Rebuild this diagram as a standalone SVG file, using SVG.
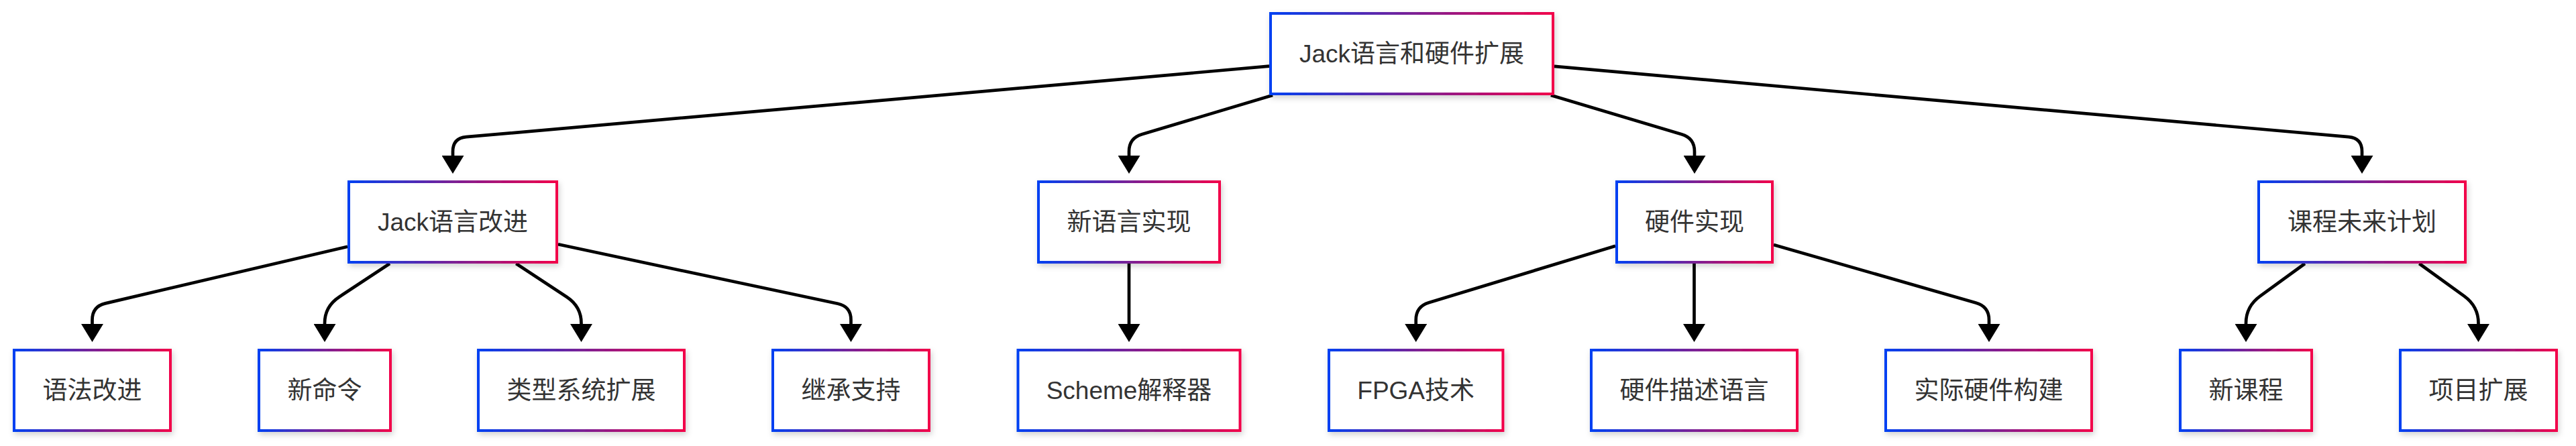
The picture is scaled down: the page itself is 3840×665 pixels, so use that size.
<svg xmlns="http://www.w3.org/2000/svg" width="3840" height="665" viewBox="0 0 3840 665">
<defs>
<linearGradient id="grad" x1="0" y1="0" x2="1" y2="0">
<stop offset="0" stop-color="#0040f2"/>
<stop offset="0.5" stop-color="#7a2196"/>
<stop offset="1" stop-color="#f2004a"/>
</linearGradient>
<filter id="shadow" x="-10%" y="-20%" width="120%" height="150%">
<feDropShadow dx="2" dy="4" stdDeviation="4" flood-color="#000" flood-opacity="0.18"/>
</filter>
<marker id="arrow" markerUnits="userSpaceOnUse" viewBox="0 0 27 33" markerWidth="27" markerHeight="33" refX="1" refY="16.5" orient="auto">
<path d="M0,0 L27,16.5 L0,33 Z" fill="#000"/>
</marker>
<style>
.node rect{fill:#fff;stroke:url(#grad);stroke-width:4;filter:url(#shadow)}
.node text{font-family:"Liberation Sans","Noto Sans CJK SC",sans-serif;font-size:37px;fill:#333;text-anchor:middle}
.edge{fill:none;stroke:#000;stroke-width:4.7;marker-end:url(#arrow)}
</style>
</defs>
<rect width="3840" height="665" fill="#fff"/>
<g id="connectors">
<path class="edge" d="M1892,98.7 L694.9,204.2 Q675,206 675,226 L675,233"/>
<path class="edge" d="M1897.1,142 L1702.2,200.3 Q1683,206 1683,226 L1683,233"/>
<path class="edge" d="M2311.9,142 L2506.8,200.3 Q2526,206 2526,226 L2526,233"/>
<path class="edge" d="M2317,98.9 L3501.1,204.2 Q3521,206 3521,226 L3521,233"/>
<path class="edge" d="M518,367.8 L157,452.4 Q137.5,457 137.5,477 L137.5,484"/>
<path class="edge" d="M581,393 L505.7,442.7 Q484,457 484,482 L484,484"/>
<path class="edge" d="M769.3,393 L844.8,442.7 Q866.5,457 866.5,482 L866.5,484"/>
<path class="edge" d="M832,364.3 L1248.9,452.8 Q1268.5,457 1268.5,477 L1268.5,484"/>
<path class="edge" d="M1683,393 L1683,484"/>
<path class="edge" d="M2408,366.8 L2129.8,451.2 Q2110.7,457 2110.7,477 L2110.7,484"/>
<path class="edge" d="M2525.5,393 L2525.5,484"/>
<path class="edge" d="M2644,364.9 L2945.3,451.5 Q2965,457 2965,477 L2965,484"/>
<path class="edge" d="M3435.9,393 L3369,441.7 Q3348,457 3348,482 L3348,484"/>
<path class="edge" d="M3606.3,393 L3673.5,441.7 Q3694.5,457 3694.5,482 L3694.5,484"/>
</g>
<g id="n-root" class="node"><rect x="1894" y="20" width="421" height="120"/><text x="2104.5" y="92.5">Jack语言和硬件扩展</text></g>
<g id="n-jack" class="node"><rect x="520" y="271" width="310" height="120"/><text x="675" y="343.5">Jack语言改进</text></g>
<g id="n-newlang" class="node"><rect x="1548" y="271" width="270" height="120"/><text x="1683" y="343.5">新语言实现</text></g>
<g id="n-hw" class="node"><rect x="2410" y="271" width="232" height="120"/><text x="2526" y="343.5">硬件实现</text></g>
<g id="n-course" class="node"><rect x="3367" y="271" width="308" height="120"/><text x="3521" y="343.5">课程未来计划</text></g>
<g id="n-syntax" class="node"><rect x="21" y="522" width="233" height="120"/><text x="137.5" y="594.5">语法改进</text></g>
<g id="n-cmd" class="node"><rect x="386" y="522" width="196" height="120"/><text x="484" y="594.5">新命令</text></g>
<g id="n-type" class="node"><rect x="713" y="522" width="307" height="120"/><text x="866.5" y="594.5">类型系统扩展</text></g>
<g id="n-inherit" class="node"><rect x="1152" y="522" width="233" height="120"/><text x="1268.5" y="594.5">继承支持</text></g>
<g id="n-scheme" class="node"><rect x="1517.5" y="522" width="331" height="120"/><text x="1683" y="594.5">Scheme解释器</text></g>
<g id="n-fpga" class="node"><rect x="1981" y="522" width="259.4" height="120"/><text x="2110.7" y="594.5">FPGA技术</text></g>
<g id="n-hdl" class="node"><rect x="2372" y="522" width="307" height="120"/><text x="2525.5" y="594.5">硬件描述语言</text></g>
<g id="n-build" class="node"><rect x="2811" y="522" width="307" height="120"/><text x="2964.5" y="594.5">实际硬件构建</text></g>
<g id="n-newcourse" class="node"><rect x="3250" y="522" width="196" height="120"/><text x="3348" y="594.5">新课程</text></g>
<g id="n-project" class="node"><rect x="3578" y="522" width="233" height="120"/><text x="3694.5" y="594.5">项目扩展</text></g>
</svg>
